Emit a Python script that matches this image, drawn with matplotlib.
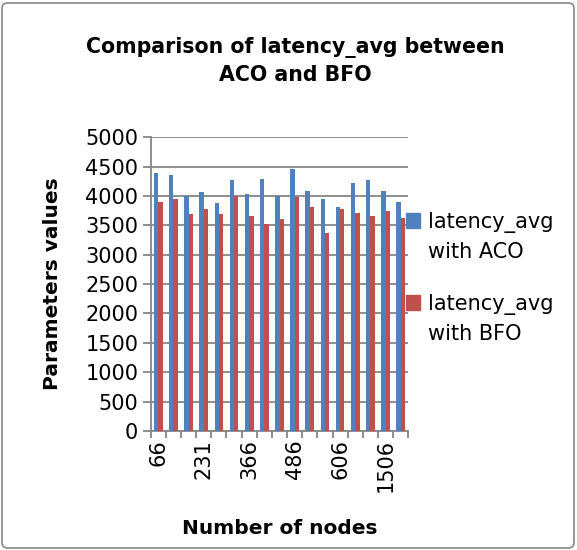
import numpy as np
import matplotlib.pyplot as plt
from matplotlib.patches import Rectangle, FancyBboxPatch

# categories (only every third label is printed in the original chart)
nodes = ["66", "121", "176", "231", "276", "321", "366", "406", "446",
         "486", "526", "566", "606", "906", "1206", "1506", "1806"]
aco = [4390, 4360, 4000, 4070, 3880, 4270, 4030, 4290, 4000,
       4460, 4080, 3940, 3820, 4220, 4270, 4080, 3890]
bfo = [3890, 3950, 3690, 3770, 3700, 4000, 3660, 3520, 3600,
       3990, 3810, 3370, 3770, 3710, 3660, 3750, 3630]
series_names = ["latency_avg\nwith ACO", "latency_avg\nwith BFO"]
blue = "#4F81BD"
red = "#C0504D"
gray = "#868686"

W, H = 577, 550
fig = plt.figure(figsize=(W / 100, H / 100), dpi=100)
ax = fig.add_axes([150.7 / W, 1 - 431 / H, (408.3 - 150.7) / W, 293.8 / H])

x = np.arange(len(nodes))
w = 0.286
ax.bar(x - w / 2, aco, w, color=blue, zorder=3)
ax.bar(x + w / 2, bfo, w, color=red, zorder=3)

ax.set_xlim(-0.5, len(nodes) - 0.5)
ax.set_ylim(0, 5000)
ax.set_yticks(range(0, 5001, 500))
ax.yaxis.grid(True, color=gray, lw=1.3, zorder=0)
ax.set_axisbelow(True)
for s in ["top", "right"]:
    ax.spines[s].set_visible(False)
for s in ["left", "bottom"]:
    ax.spines[s].set_color(gray)
    ax.spines[s].set_linewidth(1.3)

ax.set_xticks(x[::3])
ax.set_xticklabels(nodes[::3], rotation=90)
ax.set_xticks(np.arange(-0.5, len(nodes)), minor=True)
ax.tick_params(axis="x", which="major", length=0, pad=6, labelsize=15)
ax.tick_params(axis="x", which="minor", length=5, color=gray, width=1.3)
ax.tick_params(axis="y", length=6, color=gray, width=1.3, labelsize=15, pad=3)

ax.set_ylabel("Parameters values", fontsize=14.5, fontweight="bold", labelpad=17)
fig.text(280 / W, 1 - 528 / H, "Number of nodes", fontsize=14.5,
         fontweight="bold", ha="center", va="center")
fig.text(295 / W, 1 - 61 / H, "Comparison of latency_avg between\nACO and BFO",
         fontsize=14.8, fontweight="bold", ha="center", va="center",
         linespacing=1.45)

# legend
for i, (name, col) in enumerate(zip(series_names, [blue, red])):
    y0 = [213, 295][i]
    fig.patches.append(Rectangle((406 / W, 1 - (y0 + 15) / H), 14 / W, 15 / H,
                                 transform=fig.transFigure, color=col))
    fig.text(428 / W, 1 - (y0 - 1) / H, name, fontsize=15, ha="left",
             va="top", linespacing=1.55)

fig.patches.append(FancyBboxPatch((2 / W, 2 / H), (W - 5) / W, (H - 5) / H,
                                  boxstyle="round,pad=0,rounding_size=0.01",
                                  transform=fig.transFigure, fill=False,
                                  ec=gray, lw=1.2))

fig.savefig("out.png", dpi=100)
